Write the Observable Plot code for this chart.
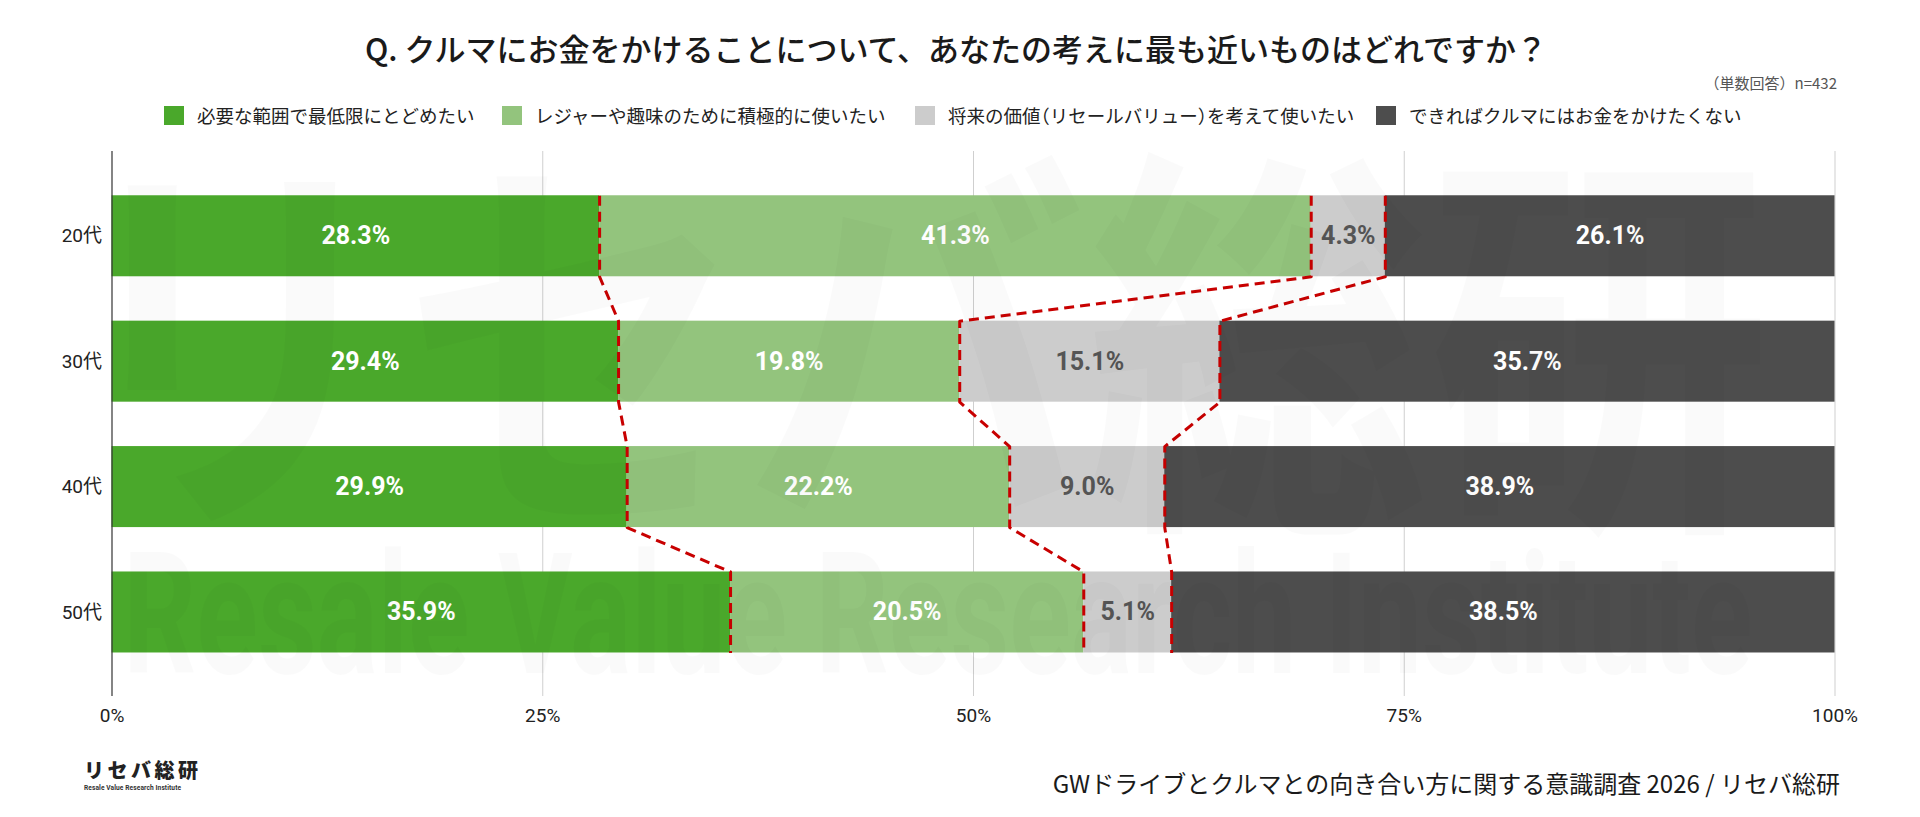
<!DOCTYPE html>
<html>
<head>
<meta charset="utf-8">
<script src="https://cdn.jsdelivr.net/npm/d3@7"></script>
<script src="https://cdn.jsdelivr.net/npm/@observablehq/plot@0.6"></script>
<style>
  html, body { margin: 0; padding: 0; background: #fff; }
  #wrap { position: relative; width: 1920px; height: 817px; overflow: hidden; font-family: "Noto Sans CJK JP", "Noto Sans", sans-serif; color: #222; }
  #chart { position: absolute; left: 0; top: 0; }
  .abs { position: absolute; white-space: nowrap; }
  #title { left: 0; width: 1912px; top: 26px; text-align: center; font-size: 31px; font-weight: 500; line-height: 44px; color: #1a1a1a; }
  #note { right: 83px; top: 72px; font-size: 15px; color: #555; line-height: 22px; }
  .leg { top: 104px; height: 22px; display: flex; align-items: center; font-size: 18.5px; line-height: 22px; color: #222; }
  .sw { width: 20px; height: 19px; margin-right: 13px; flex: none; }
  .lt { font-feature-settings: "halt" 0; }
  .p { font-feature-settings: "halt" 1; }
  #footer { right: 80px; top: 767px; font-size: 24px; line-height: 32px; color: #1a1a1a; }
  #logo { left: 84px; top: 756px; width: 116px; }
  #logo .big { font-size: 20px; font-weight: 900; letter-spacing: 3.5px; line-height: 28px; color: #222; }
  #logo .small { font-family: Roboto, sans-serif; font-size: 6.6px; font-weight: 700; color: #333; line-height: 9px; letter-spacing: 0.1px; }
</style>
</head>
<body>
<div id="wrap">
  <div id="chart"></div>
  <div id="title" class="abs"></div>
  <div id="note" class="abs"></div>
  <div id="legend"></div>
  <div id="footer" class="abs"></div>
  <div id="logo" class="abs"><div class="big">リセバ総研</div><div class="small">Resale Value Research Institute</div></div>
</div>
<script>
// ---- data ----
const titleText = "Q. クルマにお金をかけることについて、あなたの考えに最も近いものはどれですか？";
const noteText = "（単数回答）n=432";
const footerText = "GWドライブとクルマとの向き合い方に関する意識調査 2026 / リセバ総研";
const ages = ["20代", "30代", "40代", "50代"];
const categories = [
  "必要な範囲で最低限にとどめたい",
  "レジャーや趣味のために積極的に使いたい",
  "将来の価値（リセールバリュー）を考えて使いたい",
  "できればクルマにはお金をかけたくない"
];
const values20 = [28.3, 41.3, 4.3, 26.1];
const values30 = [29.4, 19.8, 15.1, 35.7];
const values40 = [29.9, 22.2, 9.0, 38.9];
const values50 = [35.9, 20.5, 5.1, 38.5];
const xTicks = [0, 25, 50, 75, 100];

// ---- styles ----
const colors = ["#4aa82b", "#93c47d", "#cccccc", "#4d4d4d"];
const labelColors = ["#ffffff", "#ffffff", "#555555", "#ffffff"];
const legendX = [164, 502, 915, 1376];
const H = 0.323; // half bar thickness in row units

// ---- build table ----
const allValues = [values20, values30, values40, values50];
const rows = [];
allValues.forEach((vals, i) => {
  let cum = 0;
  vals.forEach((v, k) => {
    rows.push({age: ages[i], i, cat: categories[k], k, value: v, x1: cum, x2: cum + v});
    cum += v;
  });
});
const linePts = [];
for (let k = 0; k < 3; k++) {
  allValues.forEach((vals, i) => {
    const c = d3.sum(vals.slice(0, k + 1));
    linePts.push({k, x: c, y: i - H});
    linePts.push({k, x: c, y: i + H});
  });
}

// ---- html text ----
document.getElementById("title").textContent = titleText;
document.getElementById("note").textContent = noteText;
document.getElementById("footer").textContent = footerText;
const legendDiv = document.getElementById("legend");
const esc = s => s.replace(/([（）])/g, '<span class="p">$1</span>');
categories.forEach((c, k) => {
  const d = document.createElement("div");
  d.className = "abs leg";
  d.style.left = legendX[k] + "px";
  d.innerHTML = `<span class="sw" style="background:${colors[k]}"></span><span class="lt">${esc(c)}</span>`;
  legendDiv.appendChild(d);
});

// ---- plot ----
const plot = Plot.plot({
  width: 1920,
  height: 817,
  marginTop: 151,
  marginBottom: 121,
  marginLeft: 111.5,
  marginRight: 85.5,
  style: {fontFamily: "Roboto, 'Noto Sans CJK JP', sans-serif", background: "transparent", color: "#222"},
  x: {domain: [0, 100]},
  y: {domain: [-0.676, 3.67], reverse: true},
  color: {domain: categories, range: colors},
  marks: [
    Plot.ruleX(xTicks.filter(d => d > 0), {stroke: "#cfcfcf", strokeWidth: 1}),
    Plot.rect(rows, {x1: "x1", x2: "x2", y1: d => d.i - H, y2: d => d.i + H, fill: "cat", inset: 0}),
    Plot.ruleX([0], {stroke: "#333", strokeWidth: 1.2}),
    Plot.line(linePts, {x: "x", y: "y", z: "k", stroke: "#c80000", strokeWidth: 3, strokeDasharray: "10,6", strokeLinecap: "butt", curve: "linear"}),
    Plot.text(rows.filter(d => labelColors[d.k] === "#ffffff"), {
      x: d => (d.x1 + d.x2) / 2, y: "i", text: d => d.value.toFixed(1) + "%",
      fill: "#ffffff", fontSize: 25, fontWeight: 700
    }),
    Plot.text(rows.filter(d => labelColors[d.k] !== "#ffffff"), {
      x: d => (d.x1 + d.x2) / 2, y: "i", text: d => d.value.toFixed(1) + "%",
      fill: "#555555", fontSize: 25, fontWeight: 700
    }),
    Plot.axisX({ticks: xTicks, tickFormat: d => d + "%", tickSize: 0, tickPadding: 12, fontSize: 19, label: null}),
    Plot.axisY({ticks: [0, 1, 2, 3], tickFormat: i => ages[i], tickSize: 0, tickPadding: 10, fontSize: 19, label: null})
  ]
});
document.getElementById("chart").appendChild(plot);

// faint watermark (a logo image in the reference) drawn on a canvas and embedded as an image
function fitText(ctx, str, font, box) {
  ctx.save();
  ctx.font = font;
  ctx.textBaseline = "alphabetic";
  ctx.textAlign = "left";
  const m = ctx.measureText(str);
  const w = m.actualBoundingBoxLeft + m.actualBoundingBoxRight;
  const h = m.actualBoundingBoxAscent + m.actualBoundingBoxDescent;
  ctx.translate(box.x, box.y);
  ctx.scale(box.w / w, box.h / h);
  ctx.fillText(str, m.actualBoundingBoxLeft, m.actualBoundingBoxAscent);
  ctx.restore();
}
const cv = document.createElement("canvas");
cv.width = 1920; cv.height = 817;
const ctx = cv.getContext("2d");
ctx.fillStyle = "rgba(0,0,0,0.02)";
fitText(ctx, "リセバ総研", "700 300px 'Noto Sans CJK JP'", {x: 125, y: 148, w: 1640, h: 395});
fitText(ctx, "Resale Value Research Institute", "700 180px Roboto", {x: 130, y: 545, w: 1620, h: 130});
d3.select(plot).append("image")
  .attr("x", 0).attr("y", 0).attr("width", 1920).attr("height", 817)
  .attr("href", cv.toDataURL());
</script>
</body>
</html>
